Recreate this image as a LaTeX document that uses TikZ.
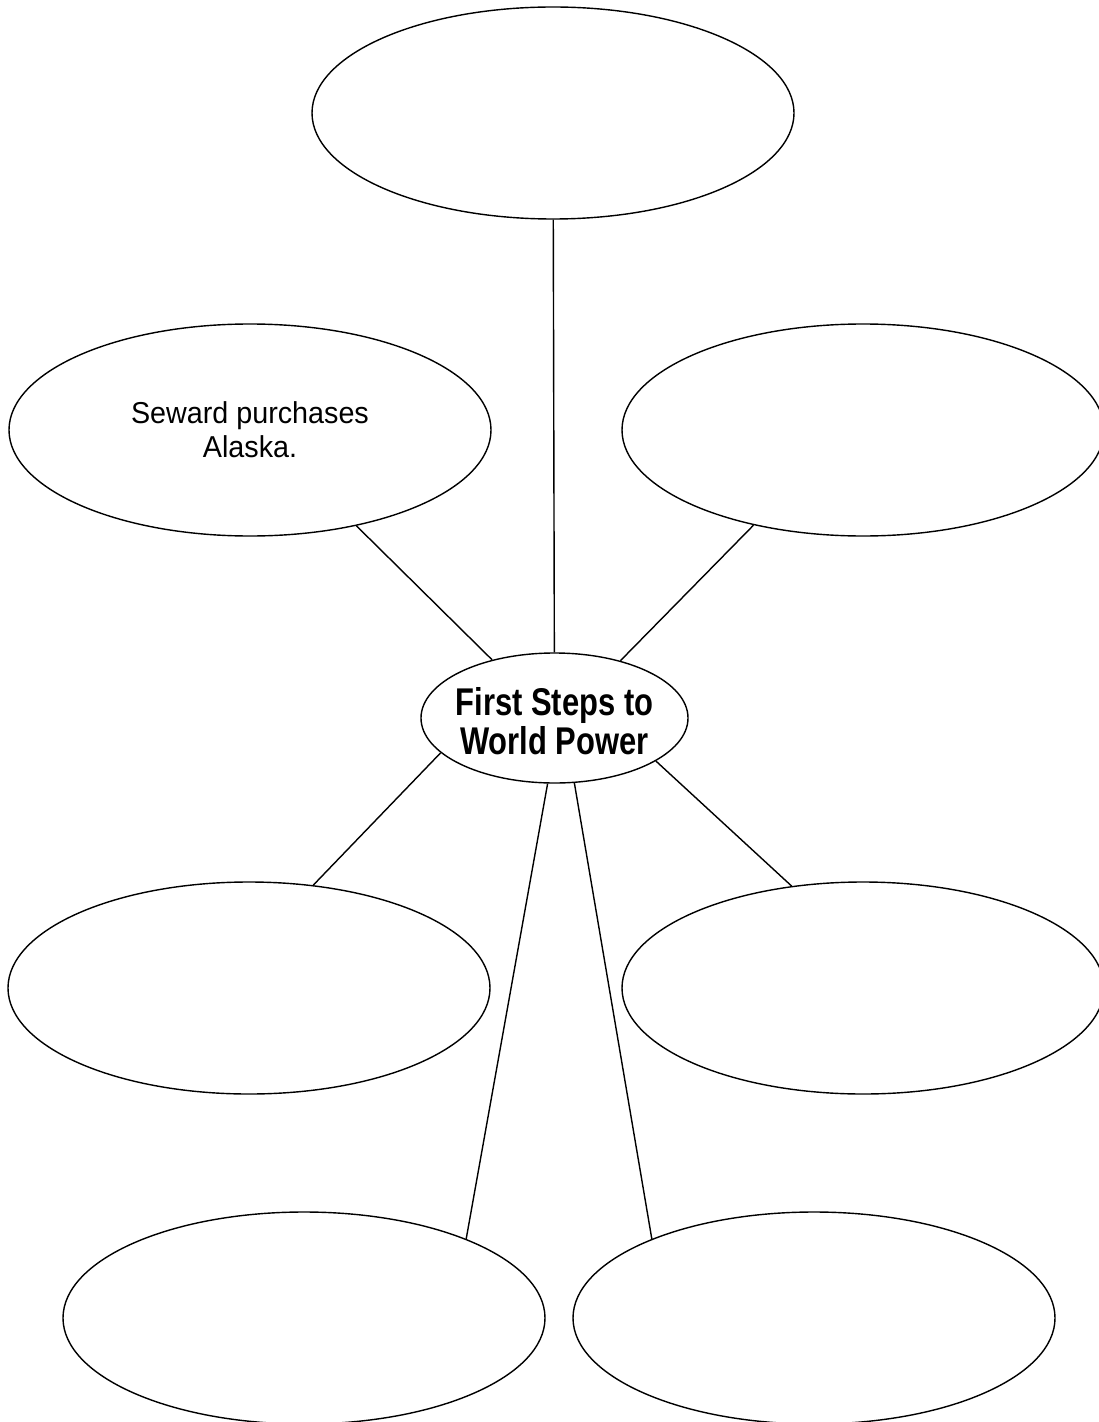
\documentclass[tikz,border=0pt]{standalone}
\usepackage{fontspec}
\setmainfont{Liberation Sans}
\newfontfamily\bubblefont[FakeStretch=0.95]{Liberation Sans}
\newfontfamily\hubfont[FakeStretch=0.8]{Liberation Sans Bold}
\usetikzlibrary{shapes.geometric}

\begin{document}
\begin{tikzpicture}[
    bubble/.style={draw, ellipse, line width=0.8pt, inner sep=0pt, minimum width=9.64cm, minimum height=4.24cm, align=center, font=\bubblefont\fontsize{17.2}{19.3}\selectfont},
    hub/.style={draw, ellipse, line width=0.8pt, inner sep=0pt, minimum width=5.34cm, minimum height=2.6cm},
    hubtext/.style={align=center, inner sep=0pt, font=\hubfont\fontsize{22}{22}\selectfont},
    link/.style={line width=0.8pt}
  ]
  \useasboundingbox (0,0) rectangle (21.98,-28.44);

  % Nodes
  \node[hub] (c) at (11.09,-14.36) {};
  \node[hubtext] (ctitle) at ([yshift=-0.07cm]c.center) {First Steps to\\World Power};
  \node[bubble] (top) at (11.06,-2.26) {};
  \node[bubble] (ul) at (5.0,-8.6) {Seward purchases\\Alaska.};
  \node[bubble] (ur) at (17.26,-8.6) {};
  \node[bubble] (ll) at (4.98,-19.76) {};
  \node[bubble] (lr) at (17.26,-19.76) {};
  \node[bubble] (bl) at (6.08,-26.36) {};
  \node[bubble] (br) at (16.28,-26.36) {};

  % Links
  \draw[link] (top) -- (c);
  \draw[link] (ul.-42) -- (c.137);
  \draw[link] (ur.221) -- (c.41);
  \draw[link] (ll.58) -- (c.197);
  \draw[link] (lr.125) -- (c.-23);
  \draw[link] (bl.26) -- (c.-96);
  \draw[link] (br.154) -- (c.-73);
\end{tikzpicture}
\end{document}
